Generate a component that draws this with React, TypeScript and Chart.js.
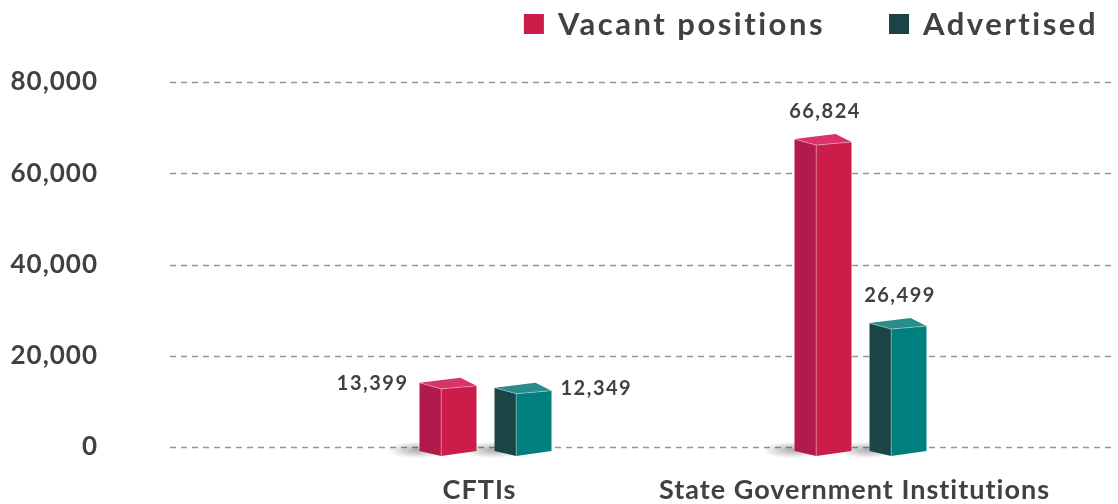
import React, { useEffect, useRef } from 'react';
import { Chart, registerables } from 'chart.js';

Chart.register(...registerables);

const categories = ['CFTIs', 'State Government Institutions'];
const seriesNames = ['Vacant positions', 'Advertised'];
const vacantPositions = [13399, 66824];
const advertisedPositions = [12349, 26499];
const yTickValues = [0, 20000, 40000, 60000, 80000];
const labelPlacement = ['side', 'top'];

const FONT = 'Lato, "Open Sans", sans-serif';
const TEXT = '#414042';
const palette = [
  { front: '#cb1c4a', side: '#b11a4a', top: '#d8336a', legend: '#cb1c4a' },
  { front: '#007f7f', side: '#1a4446', top: '#2b8c8b', legend: '#1a4446' },
];
const fmt = (v: number) => v.toLocaleString('en-US');

const spacingPlugin = {
  id: 'letterSpacing',
  beforeDraw(chart: any) {
    (chart.ctx as any).letterSpacing = '1px';
  },
};

const gridPlugin = {
  id: 'dashedGrid',
  beforeDatasetsDraw(chart: any) {
    const ys = chart.scales.y;
    const ctx = chart.ctx;
    ctx.save();
    ctx.setLineDash([6, 5]);
    ctx.strokeStyle = '#969696';
    ctx.lineWidth = 1.6;
    ys.ticks.forEach((t: any) => {
      const y = Math.round(ys.getPixelForValue(t.value)) + 0.5;
      ctx.beginPath();
      ctx.moveTo(chart.chartArea.left - 128, y);
      ctx.lineTo(chart.width - 6, y);
      ctx.stroke();
    });
    ctx.restore();
  },
};

function poly(ctx: CanvasRenderingContext2D, pts: number[][]) {
  ctx.beginPath();
  ctx.moveTo(pts[0][0], pts[0][1]);
  for (let i = 1; i < pts.length; i++) ctx.lineTo(pts[i][0], pts[i][1]);
  ctx.closePath();
  ctx.fill();
}

const bar3dPlugin = {
  id: 'bar3d',
  afterDatasetsDraw(chart: any) {
    const ctx: CanvasRenderingContext2D = chart.ctx;
    const metas = chart.data.datasets.map((_: any, i: number) => chart.getDatasetMeta(i));
    ctx.save();
    metas.forEach((meta: any) => {
      meta.data.forEach((el: any) => {
        const { x, base, width } = el.getProps(['x', 'base', 'width'], true);
        const L = x - width / 2;
        ctx.save();
        ctx.translate(L - 2, base + 3);
        ctx.scale(1, 0.28);
        const g = ctx.createRadialGradient(0, 0, 0, 0, 0, 30);
        g.addColorStop(0, 'rgba(0,0,0,0.32)');
        g.addColorStop(1, 'rgba(0,0,0,0)');
        ctx.fillStyle = g;
        ctx.fillRect(-30, -30, 60, 60);
        ctx.restore();
      });
    });
    metas.forEach((meta: any, di: number) => {
      const c = palette[di];
      meta.data.forEach((el: any) => {
        const { x, y, base, width } = el.getProps(['x', 'y', 'base', 'width'], true);
        const L = x - width / 2;
        const R = x + width / 2;
        const S = L + 0.38 * width;
        const B = L + 0.72 * width;
        ctx.fillStyle = c.side;
        poly(ctx, [[L, y - 3], [S, y + 3], [S, base + 9], [L, base + 4]]);
        ctx.fillStyle = c.front;
        poly(ctx, [[S, y + 3], [R, y], [R, base + 4], [S, base + 9]]);
        ctx.fillStyle = c.top;
        poly(ctx, [[L, y - 3], [B, y - 8], [R, y], [S, y + 3]]);
        ctx.strokeStyle = 'rgba(255,255,255,0.35)';
        ctx.lineWidth = 1;
        ctx.beginPath();
        ctx.moveTo(L, y - 3);
        ctx.lineTo(S, y + 3);
        ctx.lineTo(R, y);
        ctx.moveTo(S, y + 3);
        ctx.lineTo(S, base + 9);
        ctx.stroke();
      });
    });
    ctx.fillStyle = TEXT;
    ctx.font = `bold 20px ${FONT}`;
    (ctx as any).letterSpacing = '1.5px';
    ctx.textBaseline = 'middle';
    metas.forEach((meta: any, di: number) => {
      meta.data.forEach((el: any, ci: number) => {
        const { x, y, width } = el.getProps(['x', 'y', 'width'], true);
        const v = chart.data.datasets[di].data[ci];
        const text = fmt(v);
        if (labelPlacement[ci] === 'side') {
          if (di === 0) {
            ctx.textAlign = 'right';
            ctx.fillText(text, x - width / 2 - 11, y - 2);
          } else {
            ctx.textAlign = 'left';
            ctx.fillText(text, x + width / 2 + 9, y - 2);
          }
        } else {
          ctx.textAlign = 'center';
          ctx.fillText(text, x + 2, y - 31);
        }
      });
    });
    ctx.restore();
  },
  afterDraw(chart: any) {
    const ctx: CanvasRenderingContext2D = chart.ctx;
    ctx.save();
    ctx.font = `bold 31px ${FONT}`;
    (ctx as any).letterSpacing = '2.5px';
    ctx.textBaseline = 'middle';
    ctx.textAlign = 'left';
    const box = 20;
    const gap = 14;
    const spacing = 64;
    const names = chart.data.datasets.map((d: any) => d.label);
    const widths = names.map((n: string) => ctx.measureText(n).width);
    let total = 0;
    widths.forEach((w: number, i: number) => {
      total += box + gap + w + (i < widths.length - 1 ? spacing : 0);
    });
    let cx = chart.width - 20 - total;
    const cy = 24;
    names.forEach((n: string, i: number) => {
      ctx.fillStyle = palette[i].legend;
      ctx.fillRect(cx, cy - box / 2, box, box);
      ctx.fillStyle = TEXT;
      ctx.fillText(n, cx + box + gap, cy + 1);
      cx += box + gap + widths[i] + spacing;
    });
    ctx.restore();
  },
};

export default function App() {
  const ref = useRef<HTMLCanvasElement | null>(null);
  useEffect(() => {
    if (!ref.current) return;
    const chart = new Chart(ref.current, {
      type: 'bar',
      data: {
        labels: categories,
        datasets: [
          {
            label: seriesNames[0],
            data: vacantPositions,
            backgroundColor: 'rgba(0,0,0,0)',
            categoryPercentage: 0.4,
            barPercentage: 0.76,
          },
          {
            label: seriesNames[1],
            data: advertisedPositions,
            backgroundColor: 'rgba(0,0,0,0)',
            categoryPercentage: 0.4,
            barPercentage: 0.76,
          },
        ],
      },
      options: {
        animation: false,
        responsive: false,
        maintainAspectRatio: false,
        devicePixelRatio: 1,
        layout: { padding: { top: 82, right: 70, left: 0, bottom: 0 } },
        plugins: { legend: { display: false }, tooltip: { enabled: false } },
        scales: {
          x: {
            grid: { display: false, drawTicks: false },
            border: { display: false },
            ticks: {
              color: TEXT,
              font: { family: FONT, size: 27, weight: 'bold' },
              padding: 27,
              labelOffset: -6,
              maxRotation: 0,
              autoSkip: false,
            },
            afterFit: (s: any) => {
              s.height = 57;
              s.paddingLeft = 0;
              s.paddingRight = 0;
            },
          },
          y: {
            min: 0,
            max: 80000,
            grid: { display: false, drawTicks: false },
            border: { display: false },
            ticks: {
              color: TEXT,
              font: { family: FONT, size: 26, weight: 'bold' },
              padding: 200,
              callback: (v: any) => fmt(Number(v)),
            },
            afterBuildTicks: (s: any) => {
              s.ticks = yTickValues.map((v) => ({ value: v }));
            },
            afterFit: (s: any) => {
              s.width = 298;
              s.paddingTop = 16;
              s.paddingBottom = 16;
            },
          },
        },
      },
      plugins: [spacingPlugin, gridPlugin, bar3dPlugin],
    });
    return () => chart.destroy();
  }, []);
  return (
    <div style={{ position: 'fixed', left: 0, top: 0, width: 1118, height: 504, background: '#fff' }}>
      <canvas ref={ref} width={1118} height={504} style={{ display: 'block' }} />
    </div>
  );
}
